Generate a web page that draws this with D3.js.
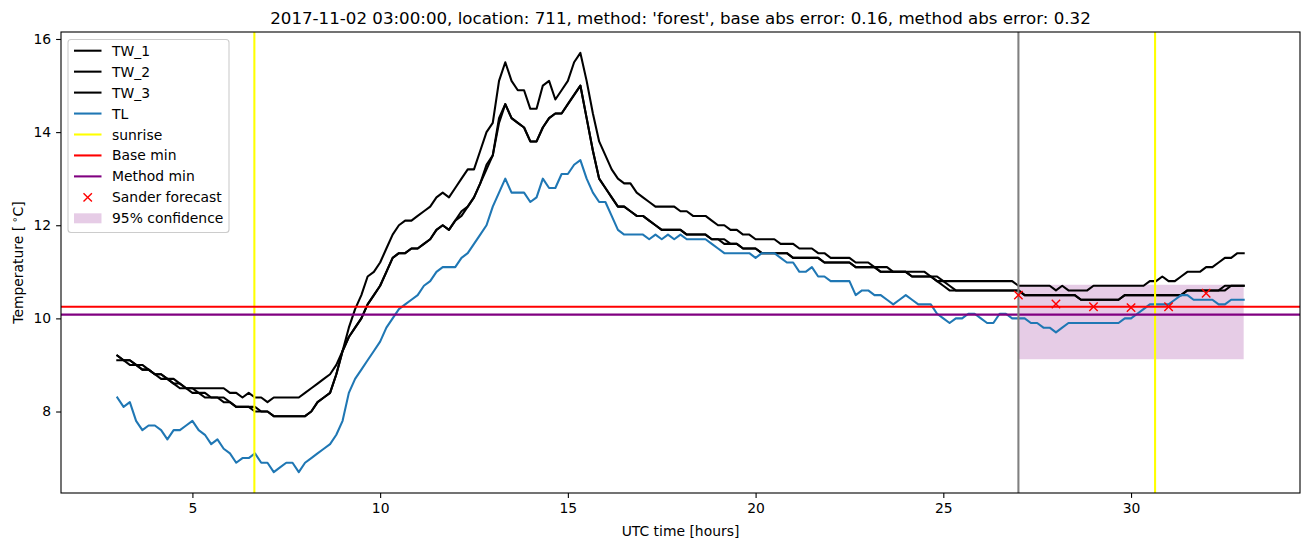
<!DOCTYPE html>
<html><head><meta charset="utf-8">
<script src="https://cdn.jsdelivr.net/npm/d3@7"></script>
<style>body{margin:0;background:#fff} svg{display:block} text{font-family:"DejaVu Sans",sans-serif;fill:#000}</style>
</head><body><svg id="c" width="1311" height="547"></svg>
<script>
// ---- data ----
const startHour = 3;          // first sample (hours UTC)
const stepHours = 1 / 6;      // 10-minute samples
const TW_1 = [
 9.2,9.1,9.1,9.0,9.0,8.9,8.8,8.8,8.7,8.6,
 8.5,8.5,8.5,8.5,8.5,8.5,8.5,8.5,8.4,8.4,
 8.3,8.4,8.3,8.3,8.2,8.3,8.3,8.3,8.3,8.3,
 8.4,8.5,8.6,8.7,8.8,9.0,9.3,9.8,10.2,10.5,
 10.9,11.0,11.2,11.5,11.8,12.0,12.1,12.1,12.2,12.3,
 12.4,12.6,12.7,12.6,12.8,13.0,13.2,13.2,13.6,14.0,
 14.2,15.1,15.5,15.1,14.9,14.9,14.5,14.5,15.0,15.1,
 14.7,14.9,15.1,15.5,15.7,15.1,14.4,13.8,13.5,13.2,
 13.0,12.9,12.9,12.7,12.6,12.5,12.4,12.4,12.4,12.4,
 12.3,12.3,12.2,12.2,12.2,12.1,12.0,12.0,11.9,11.9,
 11.8,11.8,11.7,11.7,11.7,11.7,11.6,11.6,11.6,11.5,
 11.5,11.5,11.4,11.4,11.3,11.3,11.3,11.3,11.2,11.2,
 11.2,11.1,11.1,11.1,11.0,11.0,11.0,11.0,11.0,11.0,
 10.9,10.9,10.8,10.8,10.8,10.8,10.8,10.8,10.8,10.8,
 10.8,10.8,10.8,10.8,10.7,10.7,10.7,10.7,10.7,10.7,
 10.6,10.7,10.6,10.6,10.6,10.6,10.7,10.7,10.7,10.7,
 10.7,10.7,10.7,10.7,10.7,10.8,10.8,10.9,10.8,10.8,
 10.9,11.0,11.0,11.0,11.1,11.1,11.2,11.3,11.3,11.4,
 11.4];
const TW_2 = [
 9.1,9.1,9.0,9.0,8.9,8.9,8.8,8.8,8.7,8.7,
 8.6,8.5,8.5,8.4,8.4,8.3,8.3,8.3,8.2,8.1,
 8.1,8.1,8.1,8.0,8.0,7.9,7.9,7.9,7.9,7.9,
 7.9,8.0,8.2,8.3,8.4,8.8,9.3,9.6,9.8,10.0,
 10.3,10.5,10.7,11.0,11.3,11.4,11.4,11.5,11.5,11.6,
 11.7,11.9,12.0,11.9,12.1,12.3,12.4,12.6,12.9,13.3,
 13.5,14.3,14.6,14.3,14.2,14.1,13.8,13.8,14.1,14.3,
 14.4,14.4,14.6,14.8,15.0,14.3,13.6,13.0,12.8,12.6,
 12.4,12.4,12.3,12.2,12.2,12.1,12.0,11.9,11.9,11.9,
 11.9,11.8,11.8,11.8,11.8,11.7,11.7,11.6,11.6,11.6,
 11.5,11.5,11.5,11.4,11.4,11.4,11.4,11.4,11.3,11.3,
 11.3,11.3,11.3,11.2,11.2,11.2,11.2,11.2,11.1,11.1,
 11.1,11.1,11.0,11.0,11.0,11.0,11.0,10.9,10.9,10.9,
 10.9,10.8,10.7,10.6,10.6,10.6,10.6,10.6,10.6,10.6,
 10.6,10.6,10.6,10.6,10.6,10.5,10.5,10.5,10.5,10.5,
 10.5,10.5,10.5,10.5,10.4,10.4,10.4,10.4,10.4,10.4,
 10.4,10.5,10.5,10.5,10.5,10.5,10.5,10.5,10.5,10.5,
 10.5,10.6,10.6,10.6,10.6,10.6,10.6,10.6,10.7,10.7,
 10.7];
const TW_3 = [
 9.2,9.1,9.1,9.0,8.9,8.9,8.8,8.7,8.7,8.6,
 8.6,8.5,8.4,8.4,8.3,8.3,8.3,8.2,8.2,8.1,
 8.1,8.1,8.0,8.0,8.0,7.9,7.9,7.9,7.9,7.9,
 7.9,8.0,8.2,8.3,8.4,8.8,9.3,9.6,9.8,10.0,
 10.3,10.5,10.7,11.0,11.3,11.4,11.4,11.5,11.5,11.6,
 11.7,11.9,12.0,11.9,12.1,12.2,12.4,12.6,12.9,13.2,
 13.5,14.2,14.6,14.3,14.2,14.1,13.8,13.8,14.1,14.3,
 14.4,14.4,14.6,14.8,15.0,14.3,13.6,13.0,12.8,12.6,
 12.4,12.4,12.3,12.2,12.2,12.1,12.0,11.9,11.9,11.9,
 11.9,11.8,11.8,11.8,11.8,11.7,11.7,11.7,11.6,11.6,
 11.5,11.5,11.5,11.4,11.4,11.4,11.4,11.4,11.3,11.3,
 11.3,11.3,11.3,11.2,11.2,11.2,11.2,11.2,11.1,11.1,
 11.1,11.1,11.0,11.0,11.0,11.0,11.0,10.9,10.9,10.9,
 10.9,10.8,10.8,10.7,10.6,10.6,10.6,10.6,10.6,10.6,
 10.6,10.6,10.6,10.6,10.6,10.5,10.5,10.5,10.5,10.5,
 10.5,10.5,10.5,10.5,10.4,10.4,10.4,10.4,10.4,10.4,
 10.4,10.5,10.5,10.5,10.5,10.5,10.5,10.5,10.5,10.5,
 10.5,10.6,10.6,10.6,10.6,10.6,10.6,10.7,10.7,10.7,
 10.7];
const TL = [
 8.3,8.1,8.2,7.8,7.6,7.7,7.7,7.6,7.4,7.6,
 7.6,7.7,7.8,7.6,7.5,7.3,7.4,7.2,7.1,6.9,
 7.0,7.0,7.1,6.9,6.9,6.7,6.8,6.9,6.9,6.7,
 6.9,7.0,7.1,7.2,7.3,7.5,7.8,8.4,8.7,8.9,
 9.1,9.3,9.5,9.8,10.0,10.2,10.3,10.4,10.5,10.7,
 10.8,11.0,11.1,11.1,11.1,11.3,11.4,11.6,11.8,12.0,
 12.4,12.7,13.0,12.7,12.7,12.7,12.5,12.6,13.0,12.8,
 12.8,13.1,13.1,13.3,13.4,13.0,12.7,12.5,12.5,12.2,
 11.9,11.8,11.8,11.8,11.8,11.7,11.8,11.7,11.8,11.7,
 11.8,11.7,11.7,11.7,11.7,11.6,11.5,11.4,11.4,11.4,
 11.4,11.4,11.3,11.4,11.4,11.4,11.3,11.2,11.2,11.0,
 11.0,11.1,10.9,10.9,10.8,10.8,10.8,10.8,10.5,10.6,
 10.6,10.5,10.5,10.4,10.3,10.4,10.5,10.4,10.3,10.3,
 10.3,10.1,10.0,9.9,10.0,10.0,10.1,10.1,10.0,9.9,
 9.9,10.1,10.1,10.0,10.0,10.0,9.9,9.9,9.8,9.8,
 9.7,9.8,9.9,9.9,9.9,9.9,9.9,9.9,9.9,9.9,
 9.9,10.0,10.0,10.1,10.2,10.3,10.3,10.3,10.3,10.4,
 10.5,10.5,10.4,10.4,10.4,10.4,10.3,10.3,10.4,10.4,
 10.4];
const sunriseHours = [6.65, 30.64];
const forecastStartHour = 27;
const baseMin = 10.25;
const methodMin = 10.08;
const forecastHours = [27, 28, 29, 30, 31, 32];
const forecastValues = [10.5, 10.31, 10.25, 10.23, 10.25, 10.54];
const confHours = [27, 33];
const confLow = [9.12, 9.12];
const confHigh = [10.72, 10.72];
const xTickValues = [5, 10, 15, 20, 25, 30];
const yTickValues = [8, 10, 12, 14, 16];
const titleText = "2017-11-02 03:00:00, location: 711, method: 'forest', base abs error: 0.16, method abs error: 0.32";

// ---- layout ----
const svg = d3.select("#c");
const L = 61, R = 1300, T = 32, B = 493;
const series = [
  {name: "TW_1", values: TW_1, color: "#000000"},
  {name: "TW_2", values: TW_2, color: "#000000"},
  {name: "TW_3", values: TW_3, color: "#000000"},
  {name: "TL", values: TL, color: "#1f77b4"}
];
const hourOf = i => startHour + i * stepHours;
const nPts = TW_1.length;
const xMin = hourOf(0), xMax = hourOf(nPts - 1);
const allVals = series.flatMap(s => s.values);
const yLo = d3.min(allVals), yHi = d3.max(allVals);
const xPad = (xMax - xMin) * 0.05, yPad = (yHi - yLo) * 0.05;
const x = d3.scaleLinear().domain([xMin - xPad, xMax + xPad]).range([L, R]);
const y = d3.scaleLinear().domain([yLo - yPad, yHi + yPad]).range([B, T]);

svg.append("defs").append("clipPath").attr("id", "clip")
  .append("rect").attr("x", L).attr("y", T).attr("width", R - L).attr("height", B - T);
const plot = svg.append("g").attr("clip-path", "url(#clip)");

// confidence band
const area = d3.area().x(d => x(d.h)).y0(d => y(d.lo)).y1(d => y(d.hi));
plot.append("path")
  .datum(confHours.map((h, i) => ({h, lo: confLow[i], hi: confHigh[i]})))
  .attr("d", area).attr("fill", "#800080").attr("fill-opacity", 0.2);

// series
const line = d3.line().x((d, i) => x(hourOf(i))).y(d => y(d));
series.forEach(s => {
  plot.append("path").datum(s.values).attr("d", line)
    .attr("fill", "none").attr("stroke", s.color).attr("stroke-width", 2.08)
    .attr("stroke-linejoin", "round").attr("stroke-linecap", "square");
});

// sunrise lines
sunriseHours.forEach(h => {
  plot.append("line").attr("x1", x(h)).attr("x2", x(h)).attr("y1", T).attr("y2", B)
    .attr("stroke", "#ffff00").attr("stroke-width", 2.08);
});
// base / method min
[[baseMin, "#ff0000"], [methodMin, "#800080"]].forEach(([v, c]) => {
  plot.append("line").attr("x1", L).attr("x2", R).attr("y1", y(v)).attr("y2", y(v))
    .attr("stroke", c).attr("stroke-width", 2.08);
});
// forecast start
plot.append("line").attr("x1", x(forecastStartHour)).attr("x2", x(forecastStartHour))
  .attr("y1", T).attr("y2", B).attr("stroke", "#808080").attr("stroke-width", 2.08);

// forecast markers
const ms = 4.2;
forecastHours.forEach((h, i) => {
  const cx = x(h), cy = y(forecastValues[i]);
  plot.append("path").attr("d", `M${cx-ms},${cy-ms}L${cx+ms},${cy+ms}M${cx-ms},${cy+ms}L${cx+ms},${cy-ms}`)
    .attr("stroke", "#ff0000").attr("stroke-width", 1.4).attr("fill", "none");
});

// axes
const fs = "13.9px";
const xAxis = svg.append("g").attr("transform", `translate(0,${B})`)
  .call(d3.axisBottom(x).tickValues(xTickValues).tickFormat(d3.format("d")).tickSize(4.9).tickPadding(4.9).tickSizeOuter(0));
const yAxis = svg.append("g").attr("transform", `translate(${L},0)`)
  .call(d3.axisLeft(y).tickValues(yTickValues).tickFormat(d3.format("d")).tickSize(4.9).tickPadding(4.9).tickSizeOuter(0));
[xAxis, yAxis].forEach(a => {
  a.select(".domain").remove();
  a.selectAll(".tick line").attr("stroke", "#000").attr("stroke-width", 1.1);
  a.selectAll(".tick text").attr("font-size", fs).attr("font-family", "DejaVu Sans").attr("fill", "#000");
});
svg.append("rect").attr("x", L).attr("y", T).attr("width", R - L).attr("height", B - T)
  .attr("fill", "none").attr("stroke", "#000").attr("stroke-width", 1.1);

// labels
svg.append("text").attr("x", (L + R) / 2).attr("y", 536).attr("text-anchor", "middle")
  .attr("font-size", fs).text("UTC time [hours]");
const yl = svg.append("text").attr("transform", `translate(23,${(T + B) / 2}) rotate(-90)`)
  .attr("text-anchor", "middle").attr("font-size", fs);
yl.append("tspan").text("Temperature [");
yl.append("tspan").attr("font-size", "10px").attr("dy", "-5").text(" ∘");
yl.append("tspan").attr("dy", "5").text("C]");
svg.append("text").attr("x", (L + R) / 2).attr("y", 24).attr("text-anchor", "middle")
  .attr("font-size", "16.67px").text(titleText);

// legend
const lg = svg.append("g");
lg.append("rect").attr("x", 68).attr("y", 39.5).attr("width", 161).attr("height", 193).attr("rx", 3)
  .attr("fill", "#fff").attr("fill-opacity", 0.8).attr("stroke", "#cccccc").attr("stroke-width", 1.1);
const legendItems = [
  {label: "TW_1", type: "line", color: "#000000"},
  {label: "TW_2", type: "line", color: "#000000"},
  {label: "TW_3", type: "line", color: "#000000"},
  {label: "TL", type: "line", color: "#1f77b4"},
  {label: "sunrise", type: "line", color: "#ffff00"},
  {label: "Base min", type: "line", color: "#ff0000"},
  {label: "Method min", type: "line", color: "#800080"},
  {label: "Sander forecast", type: "x", color: "#ff0000"},
  {label: "95% confidence", type: "patch", color: "#800080"}
];
legendItems.forEach((it, i) => {
  const cy = 50.7 + i * 20.95;
  if (it.type === "line") {
    lg.append("line").attr("x1", 74).attr("x2", 101.5).attr("y1", cy).attr("y2", cy)
      .attr("stroke", it.color).attr("stroke-width", 2.08);
  } else if (it.type === "x") {
    const cx = 87.7;
    lg.append("path").attr("d", `M${cx-ms},${cy-ms}L${cx+ms},${cy+ms}M${cx-ms},${cy+ms}L${cx+ms},${cy-ms}`)
      .attr("stroke", it.color).attr("stroke-width", 1.4);
  } else {
    lg.append("rect").attr("x", 74).attr("y", cy - 5).attr("width", 27.5).attr("height", 10)
      .attr("fill", it.color).attr("fill-opacity", 0.2);
  }
  lg.append("text").attr("x", 112).attr("y", cy + 5).attr("font-size", fs).text(it.label);
});
</script>
</body></html>
